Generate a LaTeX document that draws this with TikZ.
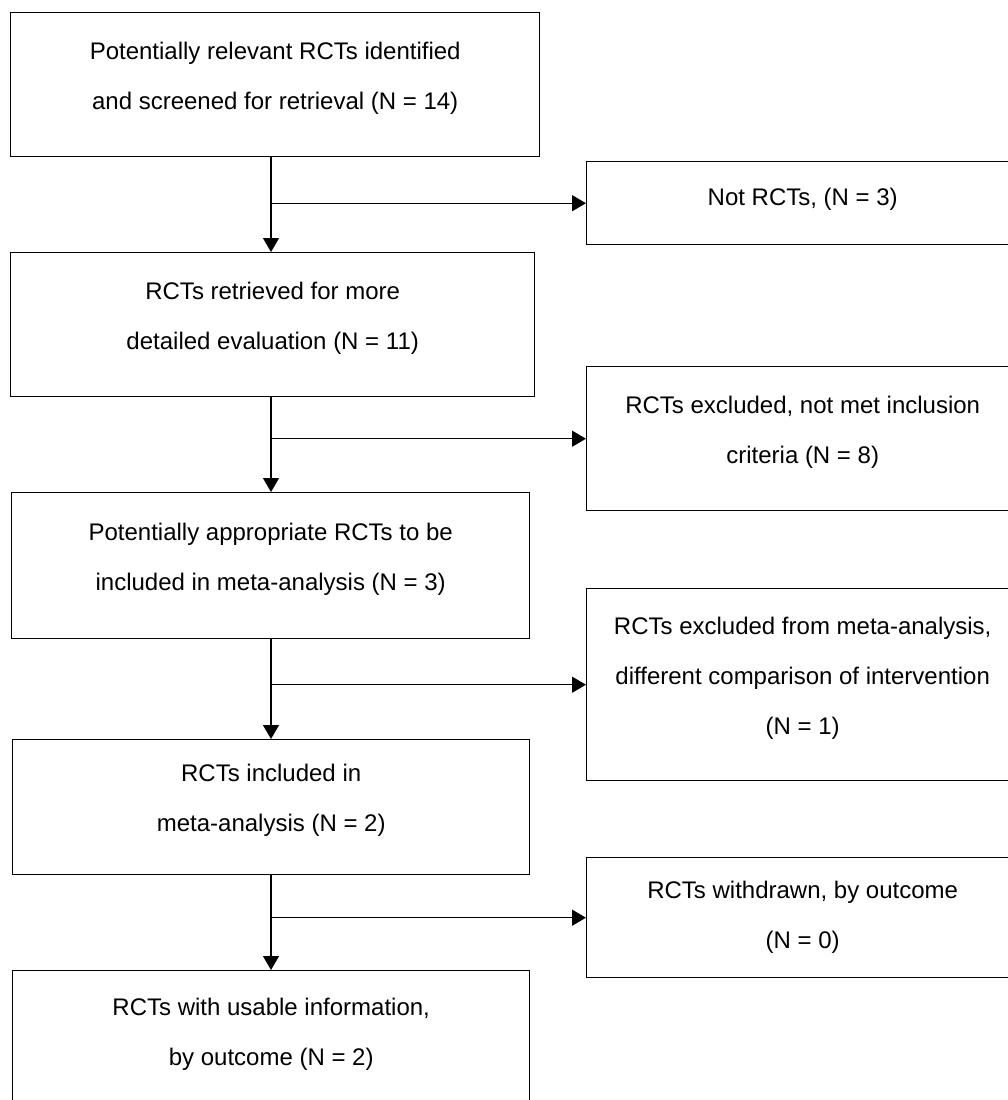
\documentclass[tikz,border=0pt]{standalone}
\usepackage{fontspec}
\setmainfont{Liberation Sans}
\usepackage{tikz}
\usetikzlibrary{arrows.meta}
\tikzset{
  box/.style     = {draw,line width=0.7pt,anchor=north west,inner sep=0pt,
                    align=center,text depth=9pt,
                    font=\fontsize{12pt}{25pt}\selectfont},
  flowarr/.style = {-{Triangle[length=7pt,width=8pt]},line width=0.7pt}
}

\begin{document}
\begin{tikzpicture}[x=0.5pt,y=-0.5pt]
  \useasboundingbox (0,0) rectangle (1008,1100);
  \clip (0,0) rectangle (1008,1100);
  % main column
  \node[box,minimum width=264.5pt,minimum height=72pt] (screen) at (10,12)
    {Potentially relevant RCTs identified\\and screened for retrieval (N = 14)};
  \node[box,minimum width=262pt,minimum height=72pt] (retrieved) at (10,252)
    {RCTs retrieved for more\\detailed evaluation (N = 11)};
  \node[box,minimum width=259pt,minimum height=73pt] (appropriate) at (11,492)
    {Potentially appropriate RCTs to be\\included in meta-analysis (N = 3)};
  \node[box,minimum width=258.5pt,minimum height=67.5pt] (included) at (12,739)
    {RCTs included in\\meta-analysis (N = 2)};
  \node[box,minimum width=258.5pt,minimum height=70pt] (usable) at (12,970)
    {RCTs with usable information,\\by outcome (N = 2)};
  % exclusions
  \node[box,minimum width=216pt,minimum height=41.5pt,text depth=6pt] (notrct) at (586,161)
    {Not RCTs, (N = 3)};
  \node[box,minimum width=216pt,minimum height=72pt] (notmet) at (586,366)
    {RCTs excluded, not met inclusion\\criteria (N = 8)};
  \node[box,minimum width=216pt,minimum height=96pt] (diffcomp) at (586,588)
    {RCTs excluded from meta-analysis,\\different comparison of intervention\\(N = 1)};
  \node[box,minimum width=216pt,minimum height=60pt,text depth=3pt] (withdrawn) at (586,857)
    {RCTs withdrawn, by outcome\\(N = 0)};
  % connectors
  \coordinate (trunk) at (271,0);
  \draw[flowarr] (screen.south -| trunk) -- (retrieved.north -| trunk);
  \draw[flowarr] (retrieved.south -| trunk) -- (appropriate.north -| trunk);
  \draw[flowarr] (appropriate.south -| trunk) -- (included.north -| trunk);
  \draw[flowarr] (included.south -| trunk) -- (usable.north -| trunk);
  \draw[flowarr] (notrct.west -| trunk) -- (notrct.west);
  \draw[flowarr] (notmet.west -| trunk) -- (notmet.west);
  \draw[flowarr] (diffcomp.west -| trunk) -- (diffcomp.west);
  \draw[flowarr] (withdrawn.west -| trunk) -- (withdrawn.west);
\end{tikzpicture}
\end{document}
